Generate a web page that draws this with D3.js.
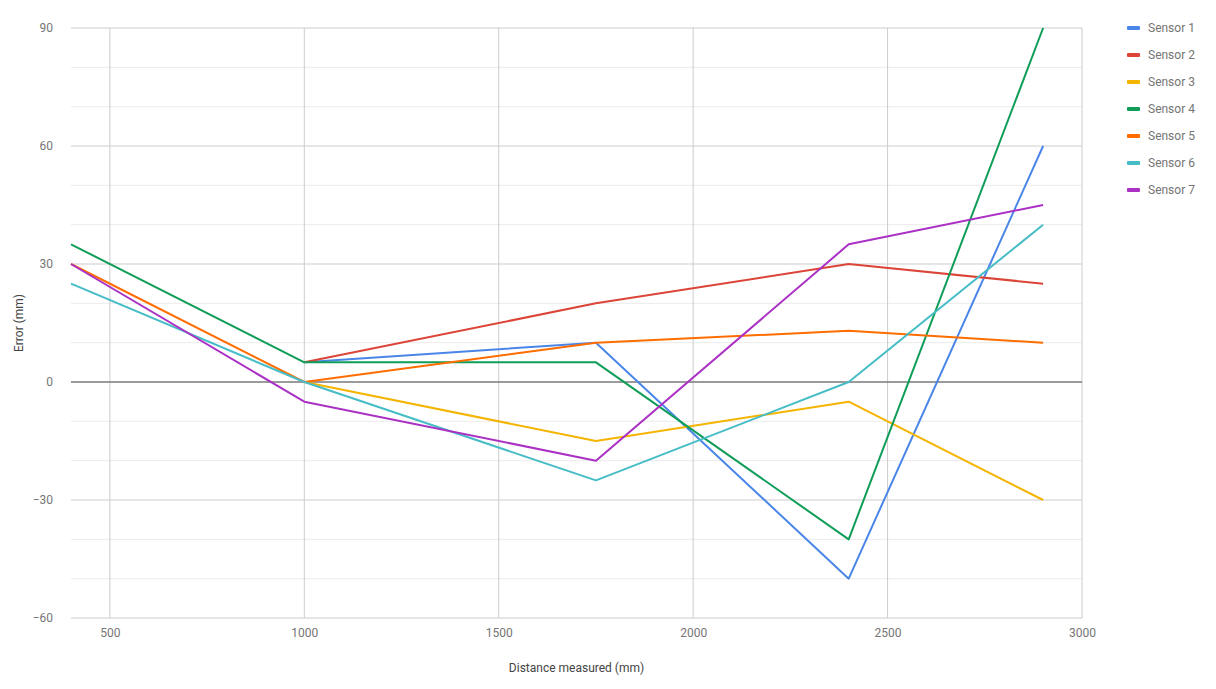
<!DOCTYPE html>
<html>
<head>
<meta charset="utf-8">
<script src="https://cdn.jsdelivr.net/npm/d3@7"></script>
<style>
  body { margin: 0; background: #fff; }
  text { font-family: Roboto, Arial, sans-serif; }
</style>
</head>
<body>
<script>
// data
var distances = [400, 1000, 1750, 2400, 2900];
var sensorNames = ['Sensor 1', 'Sensor 2', 'Sensor 3', 'Sensor 4', 'Sensor 5', 'Sensor 6', 'Sensor 7'];
var sensor1 = [null, 5, 10, -50, 60];
var sensor2 = [null, 5, 20, 30, 25];
var sensor3 = [null, 0, -15, -5, -30];
var sensor4 = [35, 5, 5, -40, 90];
var sensor5 = [30, 0, 10, 13, 10];
var sensor6 = [25, 0, -25, 0, 40];
var sensor7 = [30, -5, -20, 35, 45];
var xTicks = [500, 1000, 1500, 2000, 2500, 3000];
var yTicks = [-60, -30, 0, 30, 60, 90];
var colors = ['#4a86e8', '#db4437', '#f4b400', '#0f9d58', '#ff6d00', '#46bdc6', '#ab30c4'];

var series = [sensor1, sensor2, sensor3, sensor4, sensor5, sensor6, sensor7];

var W = 1216, H = 689;
var m = {left: 71, right: 1082, top: 28, bottom: 618};

var svg = d3.select('body').append('svg')
  .attr('width', W)
  .attr('height', H);

var x = d3.scaleLinear().domain([400, 3000]).range([m.left, m.right]);
var y = d3.scaleLinear().domain([-60, 90]).range([m.bottom, m.top]);

// minor horizontal grid
svg.append('g').selectAll('line')
  .data(d3.range(-50, 90, 10).filter(function(d){ return d % 30 !== 0; }))
  .enter().append('line')
  .attr('x1', m.left).attr('x2', m.right)
  .attr('y1', function(d){ return y(d); })
  .attr('y2', function(d){ return y(d); })
  .attr('stroke', '#ebebeb')
  .attr('stroke-width', 1);

// major horizontal grid
svg.append('g').selectAll('line')
  .data(yTicks.filter(function(d){ return d !== 0; }))
  .enter().append('line')
  .attr('x1', m.left).attr('x2', m.right)
  .attr('y1', function(d){ return y(d); })
  .attr('y2', function(d){ return y(d); })
  .attr('stroke', '#cccccc')
  .attr('stroke-width', 1);

// vertical grid
svg.append('g').selectAll('line')
  .data(xTicks)
  .enter().append('line')
  .attr('x1', function(d){ return x(d); })
  .attr('x2', function(d){ return x(d); })
  .attr('y1', m.top).attr('y2', m.bottom)
  .attr('stroke', '#cccccc')
  .attr('stroke-width', 1);

// zero baseline
svg.append('line')
  .attr('x1', m.left).attr('x2', m.right)
  .attr('y1', y(0)).attr('y2', y(0))
  .attr('stroke', '#7a7a7a')
  .attr('stroke-width', 1.5);

// y tick labels
var yAxis = svg.append('g')
  .attr('transform', 'translate(' + (m.left - 18) + ',0)')
  .call(d3.axisLeft(y).tickValues(yTicks).tickSize(0).tickPadding(0));
yAxis.select('.domain').remove();
yAxis.selectAll('text')
  .attr('font-size', '12px')
  .attr('fill', '#757575')
  .attr('font-family', 'Roboto, Arial, sans-serif');

// x tick labels
var xAxis = svg.append('g')
  .attr('transform', 'translate(0,' + (m.bottom + 10) + ')')
  .call(d3.axisBottom(x).tickValues(xTicks).tickSize(0).tickPadding(0).tickFormat(d3.format('d')));
xAxis.select('.domain').remove();
xAxis.selectAll('text')
  .attr('font-size', '12px')
  .attr('fill', '#757575')
  .attr('font-family', 'Roboto, Arial, sans-serif');

// axis titles
svg.append('text')
  .attr('x', (m.left + m.right) / 2)
  .attr('y', 672)
  .attr('text-anchor', 'middle')
  .attr('font-size', '12px')
  .attr('fill', '#444')
  .text('Distance measured (mm)');

svg.append('text')
  .attr('transform', 'translate(23,' + ((m.top + m.bottom) / 2) + ') rotate(-90)')
  .attr('text-anchor', 'middle')
  .attr('font-size', '12px')
  .attr('fill', '#444')
  .text('Error (mm)');

// lines
var line = d3.line()
  .defined(function(d){ return d.v !== null; })
  .x(function(d){ return x(d.d); })
  .y(function(d){ return y(d.v); });

svg.append('g').selectAll('path')
  .data(series)
  .enter().append('path')
  .attr('d', function(s){
    return line(s.map(function(v, i){ return {d: distances[i], v: v}; }));
  })
  .attr('fill', 'none')
  .attr('stroke', function(s, i){ return colors[i]; })
  .attr('stroke-width', 2)
  .attr('stroke-linejoin', 'round');

// legend
var legend = svg.append('g').selectAll('g')
  .data(sensorNames)
  .enter().append('g')
  .attr('transform', function(d, i){ return 'translate(1127,' + (28 + i * 27) + ')'; });

legend.append('rect')
  .attr('x', 0).attr('y', -2)
  .attr('width', 13).attr('height', 4)
  .attr('rx', 1)
  .attr('fill', function(d, i){ return colors[i]; });

legend.append('text')
  .attr('x', 21)
  .attr('y', 0)
  .attr('dy', '0.35em')
  .attr('font-size', '12px')
  .attr('fill', '#757575')
  .text(function(d){ return d; });
</script>
</body>
</html>
